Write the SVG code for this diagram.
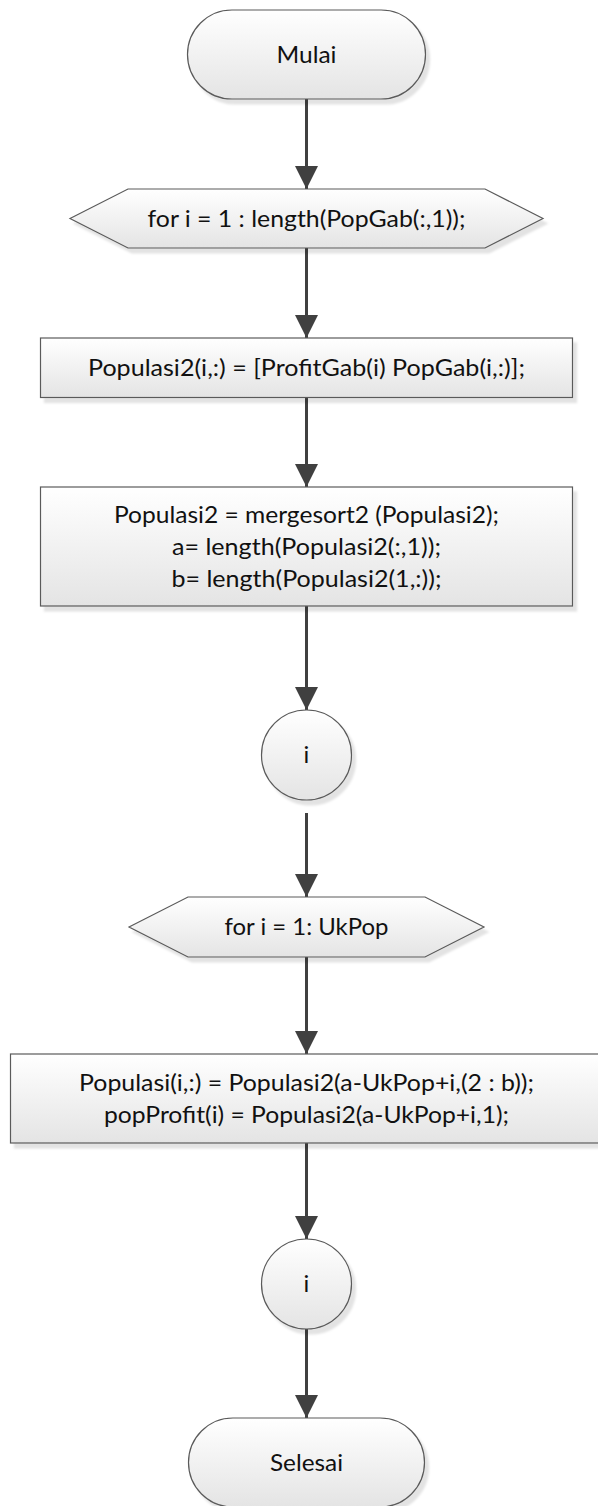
<svg xmlns="http://www.w3.org/2000/svg" width="598" height="1506" viewBox="0 0 598 1506">
  <defs>
    <linearGradient id="shapeFill" x1="0" y1="0" x2="0" y2="1">
      <stop offset="0" stop-color="#ffffff"/>
      <stop offset="1" stop-color="#e4e4e4"/>
    </linearGradient>
    <filter id="dropShadow" x="-10%" y="-10%" width="125%" height="130%">
      <feGaussianBlur in="SourceAlpha" stdDeviation="1.2" result="blur"/>
      <feOffset in="blur" dx="4" dy="5" result="off"/>
      <feFlood flood-color="#000000" flood-opacity="0.11"/>
      <feComposite in2="off" operator="in" result="shadow"/>
      <feMerge>
        <feMergeNode in="shadow"/>
        <feMergeNode in="SourceGraphic"/>
      </feMerge>
    </filter>
    <marker id="arrow" viewBox="0 0 23 23" refX="23" refY="11.5" markerWidth="23" markerHeight="23" markerUnits="userSpaceOnUse" orient="auto">
      <path d="M0,0 L23,11.5 L0,23 Z" fill="#404040"/>
    </marker>
  </defs>
  <style>
    .shape { fill: url(#shapeFill); stroke: #5a5a5a; stroke-width: 1.2; filter: url(#dropShadow); }
    .label { font-family: Lato, "Liberation Sans", sans-serif; font-size: 24px; fill: #111111; text-anchor: middle; }
    .flow { stroke: #404040; stroke-width: 3; fill: none; marker-end: url(#arrow); }
  </style>

  <!-- connectors -->
  <g id="connectors">
    <line class="flow" x1="306.5" y1="99" x2="306.5" y2="189"/>
    <line class="flow" x1="306.5" y1="248" x2="306.5" y2="338"/>
    <line class="flow" x1="306.5" y1="397.5" x2="306.5" y2="487"/>
    <line class="flow" x1="306.5" y1="606" x2="306.5" y2="710"/>
    <line class="flow" x1="306.5" y1="813" x2="306.5" y2="897"/>
    <line class="flow" x1="306.5" y1="957" x2="306.5" y2="1054"/>
    <line class="flow" x1="306.5" y1="1143" x2="306.5" y2="1239"/>
    <line class="flow" x1="306.5" y1="1329" x2="306.5" y2="1418"/>
  </g>

  <!-- start -->
  <g id="start">
    <rect class="shape" x="187.5" y="10" width="238" height="89" rx="44.5" ry="44.5"/>
    <text class="label" x="306.5" y="63" textLength="60" lengthAdjust="spacingAndGlyphs">Mulai</text>
  </g>

  <!-- outer loop header -->
  <g id="loop1">
    <polygon class="shape" points="70,218.5 128,189 485,189 543,218.5 485,248 128,248"/>
    <text class="label" x="306.5" y="227" textLength="318" lengthAdjust="spacingAndGlyphs">for i = 1 : length(PopGab(:,1));</text>
  </g>

  <!-- build Populasi2 rows -->
  <g id="assign1">
    <rect class="shape" x="40.5" y="338" width="532" height="59.5"/>
    <text class="label" x="306.5" y="376" textLength="437" lengthAdjust="spacingAndGlyphs">Populasi2(i,:) = [ProfitGab(i) PopGab(i,:)];</text>
  </g>

  <!-- sort and sizes -->
  <g id="sort">
    <rect class="shape" x="40.5" y="487" width="532" height="119"/>
    <text class="label" x="306.5" y="523" textLength="385" lengthAdjust="spacingAndGlyphs">Populasi2 = mergesort2 (Populasi2);</text>
    <text class="label" x="306.5" y="555" textLength="269" lengthAdjust="spacingAndGlyphs">a= length(Populasi2(:,1));</text>
    <text class="label" x="306.5" y="587" textLength="270" lengthAdjust="spacingAndGlyphs">b= length(Populasi2(1,:));</text>
  </g>

  <!-- loop connector i -->
  <g id="conn1">
    <circle class="shape" cx="306.5" cy="755" r="45"/>
    <text class="label" x="306.5" y="763">i</text>
  </g>

  <!-- inner loop header -->
  <g id="loop2">
    <polygon class="shape" points="129,927 188,897 425,897 484,927 425,957 188,957"/>
    <text class="label" x="306.5" y="935" textLength="164" lengthAdjust="spacingAndGlyphs">for i = 1: UkPop</text>
  </g>

  <!-- copy best rows -->
  <g id="assign2">
    <rect class="shape" x="10.5" y="1054" width="592" height="89"/>
    <text class="label" x="306.5" y="1091" textLength="455" lengthAdjust="spacingAndGlyphs">Populasi(i,:) = Populasi2(a-UkPop+i,(2 : b));</text>
    <text class="label" x="306.5" y="1123" textLength="405" lengthAdjust="spacingAndGlyphs">popProfit(i) = Populasi2(a-UkPop+i,1);</text>
  </g>

  <!-- loop connector i -->
  <g id="conn2">
    <circle class="shape" cx="306.5" cy="1284" r="45"/>
    <text class="label" x="306.5" y="1292">i</text>
  </g>

  <!-- end -->
  <g id="end">
    <rect class="shape" x="188.5" y="1418" width="236" height="89" rx="44.5" ry="44.5"/>
    <text class="label" x="306.5" y="1471" textLength="73" lengthAdjust="spacingAndGlyphs">Selesai</text>
  </g>
</svg>
